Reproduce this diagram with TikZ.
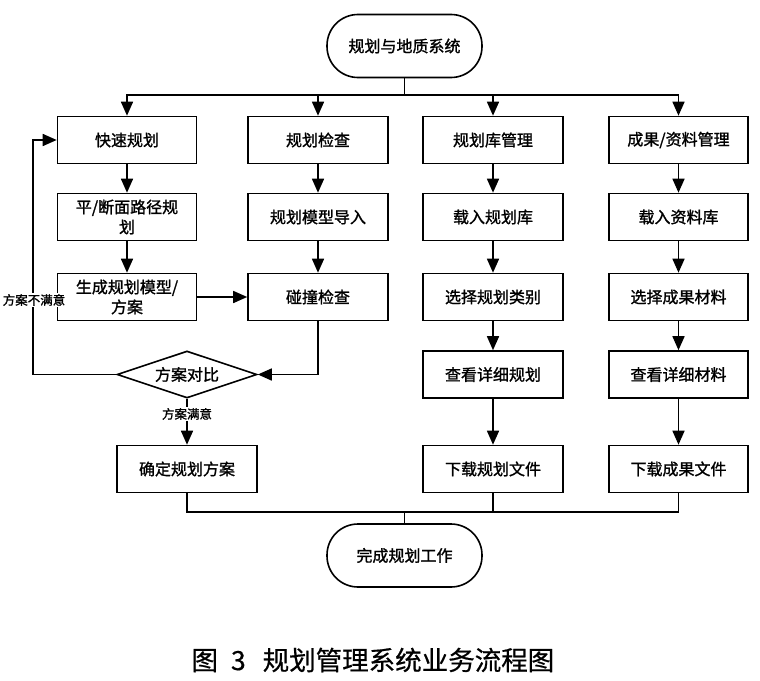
\documentclass[tikz,border=0pt]{standalone}
\usepackage{fontspec}
\setmainfont{Noto Sans CJK SC}
\newfontfamily\hb{Noto Sans CJK SC}[FakeBold=1.3]
\newfontfamily\hm{Noto Sans CJK SC}[FakeBold=0.6]
\usetikzlibrary{arrows.meta,shapes.geometric}
\tikzset{
  ln/.style={line width=1.6pt},
  arr/.style={ln,-{Triangle[length=14pt,width=12pt]}},
  box/.style={draw,ln,minimum width=139pt,minimum height=47pt,inner sep=2pt,
    font=\hb\fontsize{16}{20}\selectfont,align=center},
  term/.style={draw,ln,rounded corners=31pt,minimum width=155pt,minimum height=63pt,
    font=\hb\fontsize{16}{20}\selectfont},
  dec/.style={draw,ln,diamond,aspect=3,inner sep=0pt,minimum width=140pt,minimum height=47pt,
    font=\hb\fontsize{16}{20}\selectfont},
  lab/.style={fill=white,inner sep=1pt,font=\hb\fontsize{12.5}{14}\selectfont}
}
\begin{document}
\begin{tikzpicture}[x=1pt,y=-1pt]
\useasboundingbox (0,0) rectangle (760,680);
% terminals
\node[term] (top) at (404.5,46) {规划与地质系统};
\node[term] (end) at (404.5,555.5) {完成规划工作};
% column 1
\node[box] (b11) at (127,140) {快速规划};
\node[box] (b12) at (127,217) {平/断面路径规\\划};
\node[box] (b13) at (127,297) {生成规划模型/\\方案};
\node[dec] (dia) at (187,374.5) {方案对比};
\node[box,minimum width=140pt] (b15) at (187,469) {确定规划方案};
% column 2
\node[box,minimum width=140pt] (b21) at (318,140) {规划检查};
\node[box,minimum width=140pt] (b22) at (318,217) {规划模型导入};
\node[box,minimum width=140pt] (b23) at (318,297) {碰撞检查};
% column 3
\node[box,minimum width=140pt] (b31) at (493,140) {规划库管理};
\node[box,minimum width=140pt] (b32) at (493,217) {载入规划库};
\node[box,minimum width=140pt] (b33) at (493,297) {选择规划类别};
\node[box,minimum width=140pt] (b34) at (493,374.5) {查看详细规划};
\node[box,minimum width=140pt] (b35) at (493,469) {下载规划文件};
% column 4
\node[box] (b41) at (678.5,140) {成果/资料管理};
\node[box] (b42) at (678.5,217) {载入资料库};
\node[box] (b43) at (678.5,297) {选择成果材料};
\node[box] (b44) at (678.5,374.5) {查看详细材料};
\node[box] (b45) at (678.5,469) {下载成果文件};
% top distribution
\coordinate (bar) at (404.5,95);
\draw[ln] (top.south) -- (bar);
\draw[arr] (bar) -| (b11.north);
\draw[arr] (bar) -| (b21.north);
\draw[arr] (bar) -| (b31.north);
\draw[arr] (bar) -| (b41.north);
% columns
\draw[arr] (b11) -- (b12);
\draw[arr] (b12) -- (b13);
\draw[arr] (b13) -- (b23);
\draw[arr] (b21) -- (b22);
\draw[arr] (b22) -- (b23);
\draw[arr] (b23.south) |- (dia.east);
\coordinate (lp) at (33,374.5);
\draw[arr] (dia.west) -- (lp) |- (b11.west);
\node[lab] (nsat) at (34,300) {方案不满意};
\draw[arr] (dia.south) -- (b15.north) node[lab,pos=0.33] (sat) {方案满意};
\draw[arr] (b31) -- (b32);
\draw[arr] (b32) -- (b33);
\draw[arr] (b33) -- (b34);
\draw[arr] (b34) -- (b35);
\draw[arr] (b41) -- (b42);
\draw[arr] (b42) -- (b43);
\draw[arr] (b43) -- (b44);
\draw[arr] (b44) -- (b45);
% bottom join
\coordinate (jn) at (404.5,512);
\draw[ln] (b15.south) |- (jn) -| (b45.south);
\draw[ln] (b35.south) -- (b35.south |- jn);
\draw[ln] (jn) -- (end.north);
% caption
\node[font=\hm\fontsize{26.5}{30}\selectfont,anchor=west] (cap) at (188,660) {图\hspace{13pt}3\hspace{17pt}规划管理系统业务流程图};
\end{tikzpicture}
\end{document}
